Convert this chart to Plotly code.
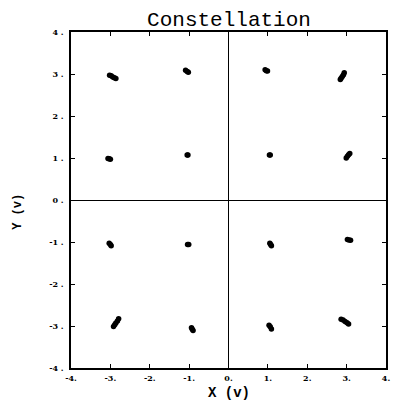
import plotly.graph_objects as go

# Received 16-QAM symbols (in-phase, quadrature), several samples per cluster
rx_i = [
    -3.02, -2.98, -2.94, -2.90, -2.86,   # (-3, 3)
    -1.09, -1.05, -1.02,                 # (-1, 3)
    0.93, 0.96, 0.99,                    # (1, 3)
    2.94, 2.92, 2.89, 2.86, 2.84,        # (3, 3)
    -3.06, -3.03, -3.00,                 # (-3, 1)
    -1.05, -1.03,                        # (-1, 1)
    1.04, 1.06,                          # (1, 1)
    3.08, 3.05, 3.02, 2.99,              # (3, 1)
    -3.03, -3.00, -2.98,                 # (-3, -1)
    -1.04, -1.01,                        # (-1, -1)
    1.05, 1.07, 1.09,                    # (1, -1)
    3.02, 3.06, 3.10,                    # (3, -1)
    -2.79, -2.82, -2.86, -2.89, -2.92,   # (-3, -3)
    -0.94, -0.92, -0.90,                 # (-1, -3)
    1.03, 1.06, 1.09,                    # (1, -3)
    2.86, 2.91, 2.96, 3.01, 3.05,        # (3, -3)
]
rx_q = [
    2.97, 2.96, 2.93, 2.91, 2.89,
    3.09, 3.06, 3.04,
    3.10, 3.08, 3.07,
    3.03, 2.98, 2.94, 2.90, 2.87,
    0.99, 0.98, 0.97,
    1.07, 1.07,
    1.07, 1.07,
    1.11, 1.08, 1.04, 1.00,
    -1.03, -1.06, -1.09,
    -1.06, -1.06,
    -1.03, -1.06, -1.09,
    -0.94, -0.95, -0.96,
    -2.83, -2.88, -2.93, -2.97, -3.01,
    -3.04, -3.08, -3.11,
    -2.98, -3.02, -3.07,
    -2.84, -2.86, -2.89, -2.92, -2.95,
]

tick_vals = [-4, -3, -2, -1, 0, 1, 2, 3, 4]
x_tick_text = ["-4.", "-3.", "-2.", "-1.", "0.", "1.", "2.", "3.", "4."]
y_tick_text = ["-4 .", "-3 .", "-2 .", "-1 .", "0 .", "1 .", "2 .", "3 .", "4 ."]

fig = go.Figure()

fig.add_trace(go.Scatter(
    x=rx_i, y=rx_q, mode="markers",
    marker=dict(color="black", size=5.5, line=dict(width=0)),
    showlegend=False, hoverinfo="skip",
))

tick_font = dict(family="DejaVu Serif", size=8, color="black", weight="bold")

axis_common = dict(
    range=[-4, 4],
    tickmode="array",
    tickvals=tick_vals,
    ticks="inside",
    ticklen=4,
    tickwidth=1,
    tickcolor="black",
    showline=True,
    linecolor="black",
    linewidth=1.5,
    mirror="ticks",
    showgrid=False,
    zeroline=True,
    zerolinecolor="black",
    zerolinewidth=1.3,
    tickfont=tick_font,
    fixedrange=True,
)

fig.update_xaxes(**axis_common, ticktext=x_tick_text, ticklabelstandoff=2)
fig.update_yaxes(**axis_common, ticktext=y_tick_text, ticklabelstandoff=4)

fig.update_layout(
    width=397,
    height=402,
    margin=dict(l=71, r=7, t=32, b=34),
    paper_bgcolor="white",
    plot_bgcolor="white",
    title=dict(
        text="Constellation",
        x=229 / 397, xanchor="center",
        y=1 - 19 / 402, yanchor="middle",
        font=dict(family="Liberation Mono, Courier New, monospace", size=21, color="black"),
    ),
    annotations=[
        dict(
            text="<b>X (v)</b>", xref="paper", yref="paper",
            x=0.5, y=-0.074, xanchor="center", yanchor="middle",
            showarrow=False,
            font=dict(family="Liberation Mono, Courier New, monospace", size=14, color="black"),
        ),
        dict(
            text="<b>Y (v)</b>", xref="paper", yref="paper",
            x=-0.169, y=0.464, xanchor="center", yanchor="middle",
            textangle=-90, showarrow=False,
            font=dict(family="Liberation Mono, Courier New, monospace", size=12, color="black"),
        ),
    ],
)

fig.write_html("out.html")
